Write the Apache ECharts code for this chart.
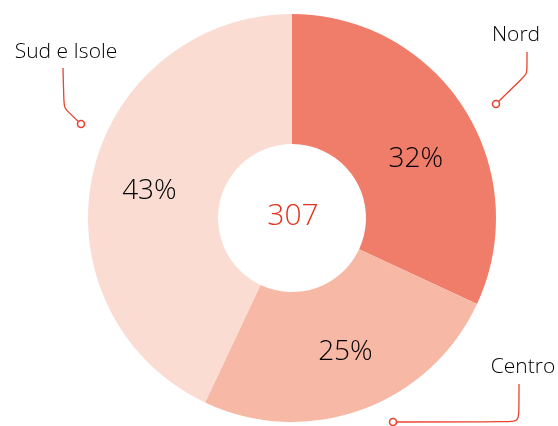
<!DOCTYPE html>
<html><head><meta charset="utf-8">
<script src="https://cdn.jsdelivr.net/npm/echarts@6/dist/echarts.min.js"></script>
<style>html,body{margin:0;padding:0;background:#fff}#c{width:558px;height:426px}</style>
</head><body><div id="c"></div>
<script>
const categories = ['Nord', 'Centro', 'Sud e Isole'];
const values = [98, 77, 132];
const colors = ['#F07D69', '#F7B8A5', '#FBDCD3'];

const total = values.reduce((a, b) => a + b, 0);
const cx = 292, cy = 218, R = 204, r0 = 74;
const FONT = 'Open Sans';
const RED = '#E8432E';

// label placement (layout only)
const labelPos = [
  { x: 516, y: 35, line: [[496, 104], [527, 74], [527, 52]] },
  { x: 523, y: 367, line: [[393, 422], [519, 422], [519, 384]] },
  { x: 66, y: 52, line: [[81, 124], [64, 108], [63, 68]] }
];
const innerShift = [[4, 17], [5, 1], [-4, 4]];

const chart = echarts.init(document.getElementById('c'), null, { renderer: 'canvas' });
const data = categories.map((n, i) => ({ name: n, value: values[i], itemStyle: { color: colors[i] } }));

chart.setOption({
  animation: false,
  series: [
    {
      type: 'pie',
      center: [cx, cy],
      radius: [r0, R],
      startAngle: 90,
      clockwise: true,
      silent: true,
      data: data,
      label: {
        show: true,
        position: 'inside',
        formatter: p => Math.round(p.value / total * 100) + '%',
        fontFamily: FONT,
        fontSize: 28,
        fontWeight: 300,
        color: '#000'
      },
      labelLayout: p => ({ dx: innerShift[p.dataIndex][0], dy: innerShift[p.dataIndex][1] }),
      labelLine: { show: false },
      itemStyle: { borderWidth: 0 }
    },
    {
      type: 'pie',
      center: [cx, cy],
      radius: [r0, R],
      startAngle: 90,
      clockwise: true,
      silent: true,
      z: 5,
      data: categories.map((n, i) => ({ name: n, value: values[i], itemStyle: { color: 'rgba(0,0,0,0)' } })),
      label: {
        show: true,
        position: 'outside',
        overflow: 'none',
        formatter: '{b}',
        fontFamily: FONT,
        fontSize: 21,
        fontWeight: 300,
        color: '#000'
      },
      labelLine: { show: true, smooth: 0.12, lineStyle: { color: RED, width: 1.3 } },
      labelLayout: function (p) {
        const L = labelPos[p.dataIndex];
        return { x: L.x, y: L.y, align: 'center', verticalAlign: 'middle', labelLinePoints: L.line };
      }
    }
  ],
  graphic: [
    {
      type: 'text', x: cx + 1, y: cy - 2, z: 10,
      style: { text: String(total), fill: '#E4321C', font: '300 30px "' + FONT + '"', textAlign: 'center', textVerticalAlign: 'middle' }
    }
  ].concat(labelPos.map(L => ({
    type: 'circle', z: 20,
    shape: { cx: L.line[0][0], cy: L.line[0][1], r: 3.5 },
    style: { fill: '#fff', stroke: RED, lineWidth: 1.6 }
  })))
});
</script>
</body></html>
